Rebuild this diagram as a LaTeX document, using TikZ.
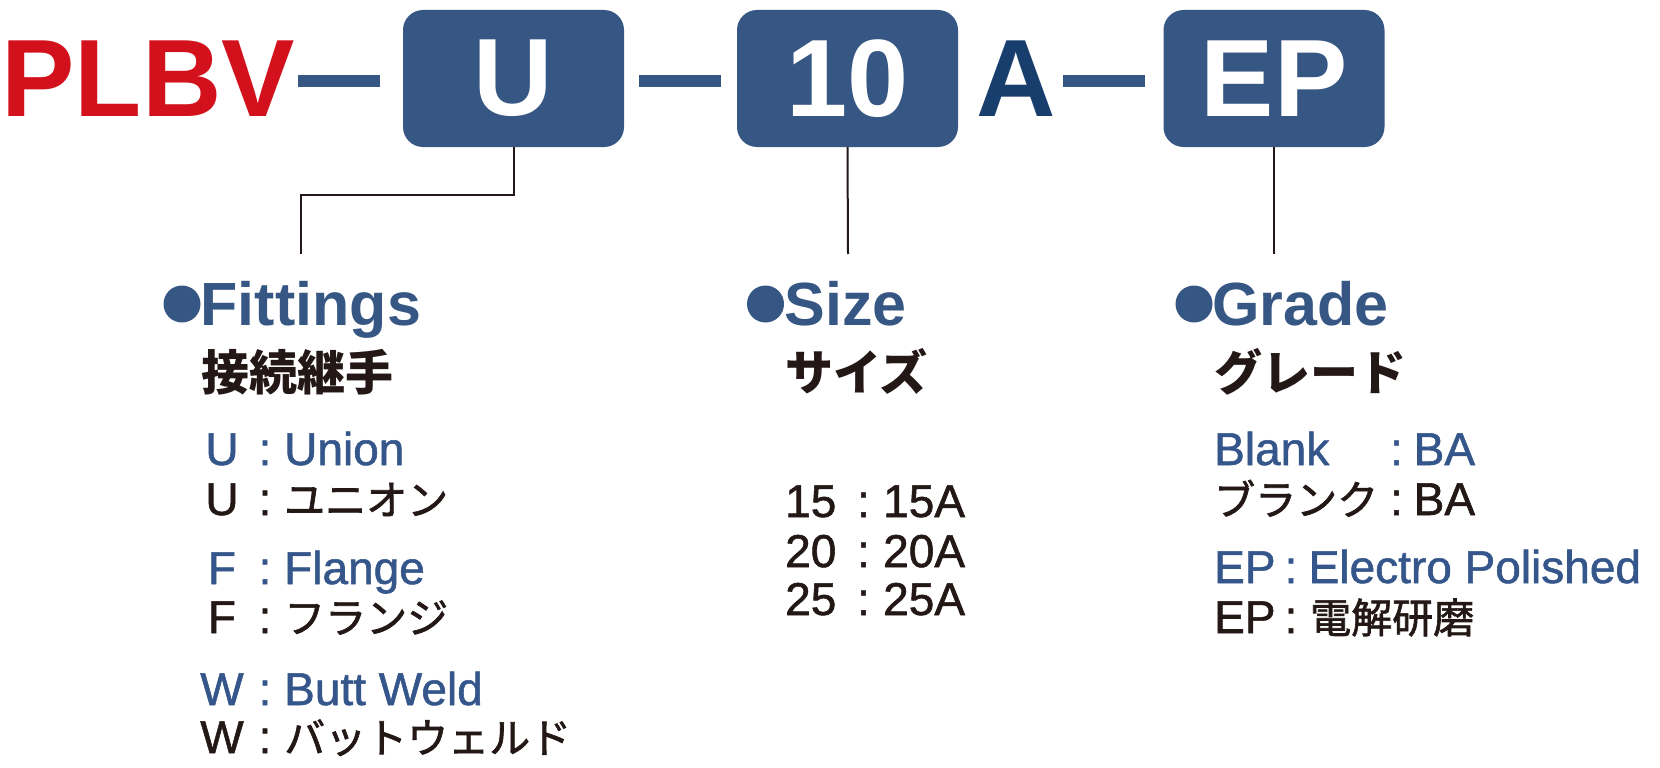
\documentclass[tikz,border=0pt]{standalone}
\usepackage{fontspec}
\setmainfont{Liberation Sans}
\newfontfamily\jpfont{Noto Sans CJK JP}
\newfontfamily\jplist[FakeBold=1.6]{Noto Sans CJK JP}
\newfontfamily\enlist[FakeBold=1.2]{Liberation Sans}

\definecolor{plbvred}{RGB}{210,17,28}
\definecolor{boxblue}{RGB}{54,86,131}
\definecolor{navy}{RGB}{24,62,110}
\definecolor{engblue}{RGB}{52,86,138}
\definecolor{inkblack}{RGB}{35,24,21}

\def\sc{1pt}
\def\boxwd{221pt}
\def\boxht{137pt}
\def\bigfont{\bfseries\fontsize{110}{110}\selectfont}
\def\headfont{\bfseries\fontsize{61}{61}\selectfont}
\def\subfont{\jpfont\bfseries\fontsize{48}{48}\selectfont}
\def\enval{\enlist\fontsize{46}{46}\selectfont}
\def\jpval{\jplist\fontsize{41}{41}\selectfont}
\def\topy{117}
\def\heady{325}
\def\suby{390}

\begin{document}
\begin{tikzpicture}[x=\sc, y=-\sc,
  partbox/.style={fill=boxblue, rounded corners=20pt, text=white, inner sep=0pt,
    minimum width=\boxwd, minimum height=\boxht, font=\bigfont},
  parttext/.style={anchor=base west, inner sep=0pt, font=\bigfont},
  dashbar/.style={draw=boxblue, line width=12pt},
  leader/.style={draw=inkblack, line width=2pt},
  dot/.style={circle, fill=boxblue, inner sep=0pt, minimum size=37pt},
  heading/.style={anchor=base west, inner sep=0pt, text=boxblue, font=\headfont},
  subhead/.style={anchor=base west, inner sep=0pt, text=inkblack, font=\subfont},
  listkey/.style={anchor=base, inner sep=0pt, font=\enval},
  listcolon/.style={anchor=base, inner sep=0pt, font=\enval},
  listval/.style={anchor=base west, inner sep=0pt}]
\useasboundingbox (0,0) rectangle (1660,768);

% part number
\node [parttext, text=plbvred] (plbv) at (1.3,\topy) {PLBV};
\node [partbox] (ubox) at (513.5,78.5) {U};
\node [partbox] (sizebox) at (847.5,78.5) {10};
\node [parttext, text=navy] (unita) at (976,\topy) {A};
\node [partbox] (epbox) at (1274,78.5) {EP};
\draw [dashbar] (298,81) -- (380,81);
\draw [dashbar] (639,81) -- (721,81);
\draw [dashbar] (1063,81) -- (1145,81);

% leaders
\coordinate (fitend) at (301,254);
\coordinate (sizeend) at (848,254);
\coordinate (gradeend) at (1274,254);
\draw [leader] (ubox.south) -- ++(0,48) -| (fitend);
\draw [leader] (sizebox.south) -- (sizeend);
\draw [leader] (epbox.south) -- (gradeend);

% headings
\node [dot] (fitdot) at (182,304) {};
\node [heading] (fithead) at (200.5,\heady) {Fittings};
\node [subhead] (fitsub) at (201,\suby) {接続継手};
\node [dot] (sizedot) at (765.5,304) {};
\node [heading] (sizehead) at (784.5,\heady) {Size};
\node [subhead] (sizesub) at (785,\suby) {サイズ};
\node [dot] (gradedot) at (1194,304) {};
\node [heading] (gradehead) at (1212,\heady) {Grade};
\node [subhead] (gradesub) at (1214,\suby) {グレード};

% fittings list
\foreach \k/\v/\yy/\c/\f in {U/Union/465/engblue/\enval, U/ユニオン/515/inkblack/\jpval,
    F/Flange/584/engblue/\enval, F/フランジ/633/inkblack/\jpval,
    W/Butt Weld/705/engblue/\enval, W/バットウェルド/753/inkblack/\jpval} {
  \node [listkey, text=\c] (fitkey\yy) at (222,\yy) {\k};
  \node [listcolon, text=\c] (fitcol\yy) at (265,\yy) {:};
  \node [listval, text=\c, font=\f] (fitval\yy) at (284,\yy) {\v};
}

% size list
\foreach \k/\yy in {15/517, 20/567, 25/615} {
  \node [listval, text=inkblack, font=\enval] (sizekey\yy) at (785,\yy) {\k};
  \node [listcolon, text=inkblack] (sizecol\yy) at (863.5,\yy) {:};
  \node [listval, text=inkblack, font=\enval] (sizeval\yy) at (883,\yy) {\k A};
}

% grade list
\node [listval, text=engblue, font=\enval] (gradekey465) at (1214,465) {Blank};
\node [listcolon, text=engblue] (gradecol465) at (1396.5,465) {:};
\node [listval, text=engblue, font=\enval] (gradeval465) at (1413.5,465) {BA};
\node [listval, text=inkblack, font=\jpval] (gradekey515) at (1214,515) {ブランク};
\node [listcolon, text=inkblack] (gradecol515) at (1396.5,515) {:};
\node [listval, text=inkblack, font=\enval] (gradeval515) at (1413.5,515) {BA};
\node [listval, text=engblue, font=\enval] (gradekey583) at (1214,583) {EP};
\node [listcolon, text=engblue] (gradecol583) at (1291,583) {:};
\node [listval, text=engblue, font=\enval] (gradeval583) at (1308.5,583) {Electro Polished};
\node [listval, text=inkblack, font=\enval] (gradekey633) at (1214,633) {EP};
\node [listcolon, text=inkblack] (gradecol633) at (1291,633) {:};
\node [listval, text=inkblack, font=\jpval] (gradeval633) at (1310,633) {電解研磨};
\end{tikzpicture}
\end{document}
